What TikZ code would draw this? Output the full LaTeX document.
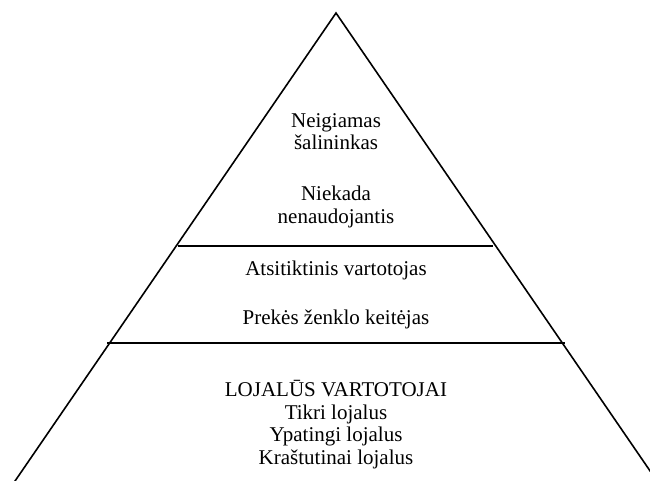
\documentclass[tikz,border=0pt]{standalone}
\usepackage{fontspec}
\setmainfont{Liberation Serif}
\usetikzlibrary{positioning}

\begin{document}
\begin{tikzpicture}[
  x=1pt,y=-1pt,
  outline/.style={line width=1.6pt},
  level/.style={
    font=\fontsize{21}{22.5}\selectfont,
    align=center,
    inner sep=0,
    anchor=base
  }
]
\useasboundingbox (0,0) rectangle (650,481);
\clip (0,0) rectangle (650,481);

% pyramid outline, cut off by the page edge
\coordinate (apex) at (336,13);
\coordinate (baseL) at (2,500);
\coordinate (baseR) at (670,500);
\draw[outline] (baseL) -- (apex) -- (baseR);

% level dividers
\draw[outline] (178,246) -- (493,246);
\draw[outline] (107,343) -- (565,343);

% multi-line nodes sit on the baseline of their last line
\node[level] (negative) at (336,150) {Neigiamas\\šalininkas};
\node[level] (never) at (336,223) {Niekada\\nenaudojantis};

\node[level] (occasional) at (336,275) {Atsitiktinis vartotojas};
\node[level] (switcher) at (336,324) {Prekės ženklo keitėjas};

\node[level] (loyal) at (336,464) {LOJALŪS VARTOTOJAI\\Tikri lojalus\\Ypatingi lojalus\\Kraštutinai lojalus};

\end{tikzpicture}
\end{document}
